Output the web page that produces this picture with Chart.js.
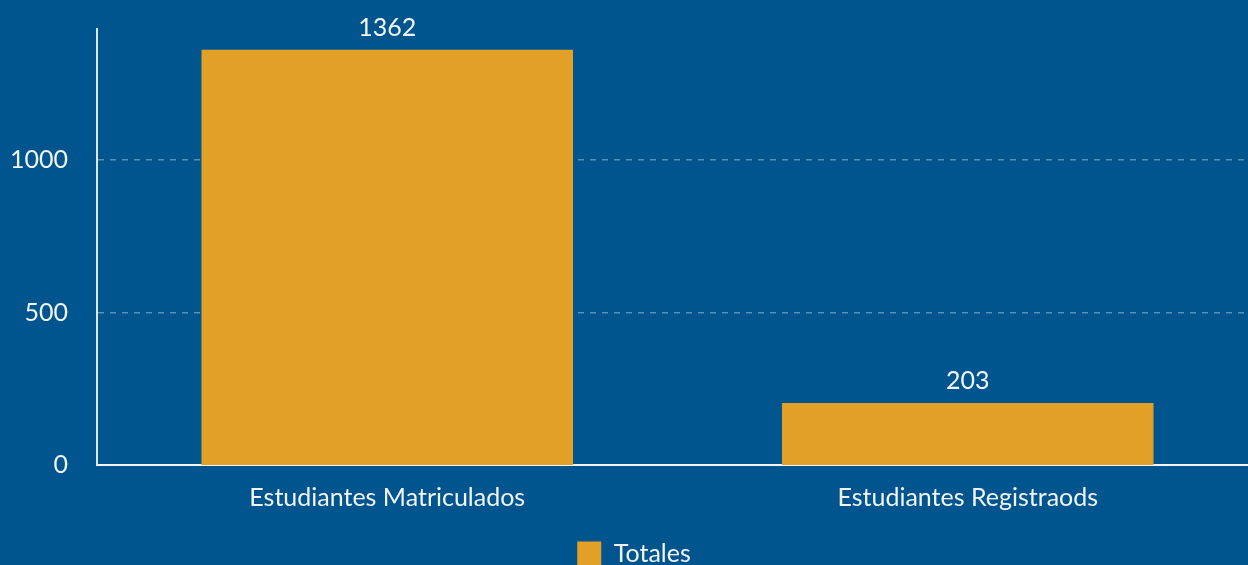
<!DOCTYPE html>
<html>
<head>
<meta charset="utf-8">
<script src="https://cdn.jsdelivr.net/npm/chart.js@4"></script>
<style>
    html, body {
        margin: 0;
        padding: 0;
        background: #01558f;
        overflow: hidden;
    }
    #wrap {
        position: absolute;
        left: 0;
        top: 0;
        width: 1258px;
        height: 576px;
    }
</style>
</head>
<body>
<div id="wrap"><canvas id="totalsChart"></canvas></div>
<script>

/* =========================
   DATA
========================= */

const categories = [
    "Estudiantes Matriculados",
    "Estudiantes Registraods"
];

const totals = [1362, 203];

const yTicks = [0, 500, 1000];

const seriesLabel = "Totales";

/* =========================
   VALUE LABELS
========================= */

const valueLabels = {

    id: "valueLabels",

    afterDatasetsDraw(chart) {

        const ctx = chart.ctx;
        const meta = chart.getDatasetMeta(0);

        ctx.save();
        ctx.font = "25px Lato";
        ctx.fillStyle = "#f2f4f7";
        ctx.textAlign = "center";
        ctx.textBaseline = "middle";

        meta.data.forEach((bar, i) => {
            ctx.fillText(
                String(chart.data.datasets[0].data[i]),
                bar.x,
                bar.y - 22
            );
        });

        ctx.restore();
    }
};

/* =========================
   CHART
========================= */

Chart.defaults.font.family = "Lato";
Chart.defaults.font.size = 25;
Chart.defaults.color = "#f2f4f7";

new Chart(document.getElementById("totalsChart"), {

    type: "bar",

    data: {
        labels: categories,
        datasets: [
            {
                label: seriesLabel,
                data: totals,
                backgroundColor: "#e3a027",
                borderWidth: 0,
                categoryPercentage: 0.8,
                barPercentage: 0.8
            }
        ]
    },

    options: {

        responsive: true,
        maintainAspectRatio: false,
        animation: false,

        layout: {
            padding: { top: 29, left: 10, right: 0, bottom: 0 }
        },

        plugins: {
            legend: {
                position: "bottom",
                labels: {
                    boxWidth: 24,
                    boxHeight: 24,
                    padding: 10,
                    color: "#f2f4f7",
                    font: { size: 25 }
                }
            },
            tooltip: { enabled: false }
        },

        scales: {

            x: {
                grid: { display: false, drawTicks: false },
                border: { color: "#f4f6f9", width: 2 },
                ticks: { padding: 18 }
            },

            y: {
                min: 0,
                max: 1430,
                afterBuildTicks(axis) {
                    axis.ticks = yTicks.map(v => ({ value: v }));
                },
                afterFit(axis) {
                    axis.width = 87;
                    axis.paddingTop = 0;
                },
                grid: {
                    color: "rgba(255,255,255,0.35)",
                    drawTicks: false,
                    lineWidth: ctx => ctx.tick && ctx.tick.value === 0 ? 0 : 1.5
                },
                border: { color: "#dfe7f0", width: 2, dash: [6, 6] },
                ticks: {
                    padding: 29,
                    callback: v => String(v)
                }
            }
        }
    },

    plugins: [valueLabels]
});
</script>
</body>
</html>
